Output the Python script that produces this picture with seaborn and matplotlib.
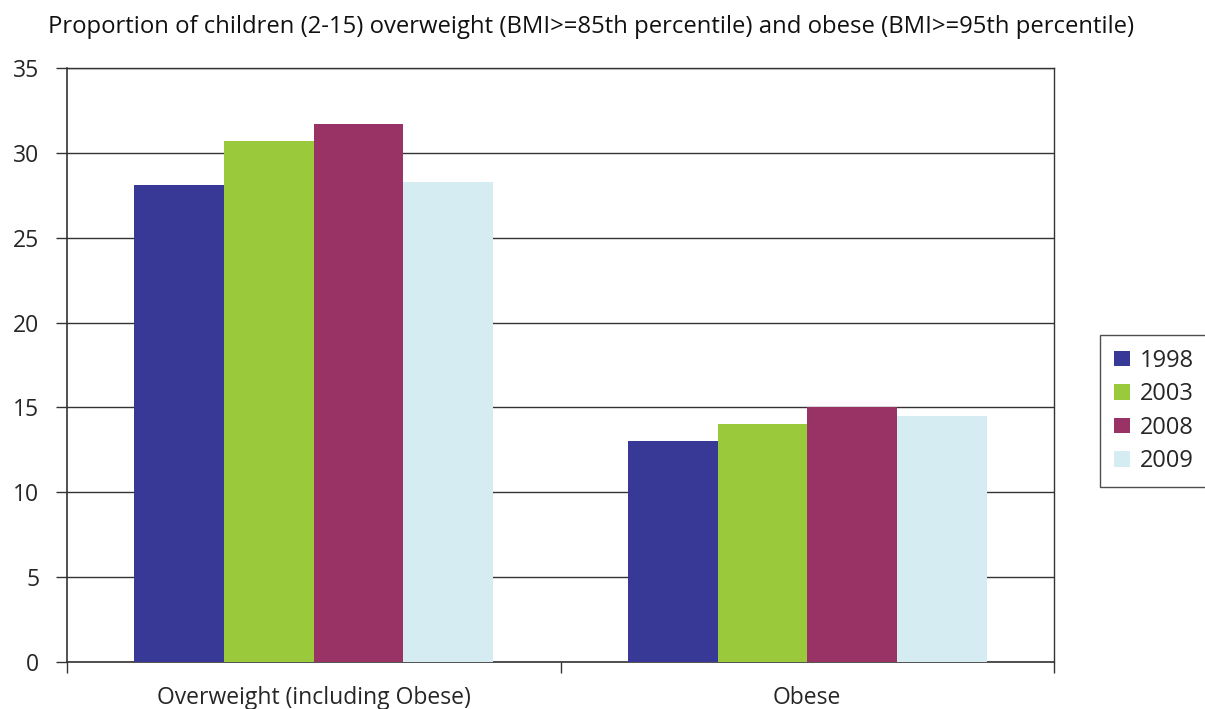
import pandas as pd
import matplotlib.pyplot as plt
import seaborn as sns

# chart values
categories = ["Overweight (including Obese)", "Obese"]
years = ["1998", "2003", "2008", "2009"]
values_1998 = [28.1, 13.0]
values_2003 = [30.7, 14.0]
values_2008 = [31.7, 15.0]
values_2009 = [28.3, 14.5]
colors = ["#383896", "#9aca3c", "#993366", "#d4ecf2"]

rows = []
for year, vals in zip(years, [values_1998, values_2003, values_2008, values_2009]):
    for cat, v in zip(categories, vals):
        rows.append({"category": cat, "year": year, "value": v})
df = pd.DataFrame(rows)

sns.set_theme(style="white")
plt.rcParams['font.family'] = ['Open Sans', 'DejaVu Sans']

fig = plt.figure(figsize=(12.05, 7.09), dpi=100)
ax = fig.add_axes([0.0556, 0.0663, 0.8191, 0.8378])

sns.barplot(data=df, x="category", y="value", hue="year", order=categories,
            hue_order=years, palette=colors, width=0.727, saturation=1,
            edgecolor="none", ax=ax, zorder=3)

ax.set_ylim(0, 35)
ax.set_xlim(-0.5, 1.5)
ax.set_yticks(range(0, 36, 5))
ax.yaxis.grid(True, color="#333333", linewidth=1.0, zorder=0)
ax.set_axisbelow(True)
ax.set_xlabel("")
ax.set_ylabel("")

# category boundary ticks, labels centered
ax.set_xticks([-0.5, 0.5, 1.5], minor=True)
ax.tick_params(axis="x", which="minor", length=8, width=1, color="#333333", direction="out", bottom=True)
ax.tick_params(axis="x", which="major", length=0, labelsize=16.5, pad=17)
ax.tick_params(axis="y", length=8, width=1, color="#333333", direction="out", left=True, labelsize=16.5, pad=12)

for s in ["left", "bottom"]:
    ax.spines[s].set_color("#333333")
    ax.spines[s].set_linewidth(1.2)
for s in ["top", "right"]:
    ax.spines[s].set_color("#333333")
    ax.spines[s].set_linewidth(1.0)

leg = ax.legend(title=None, loc="center left", bbox_to_anchor=(1.0466, 0.4226),
                frameon=True, fancybox=False, fontsize=17, handlelength=0.65,
                handleheight=0.65, handletextpad=0.45, labelspacing=0.4,
                borderpad=0.6, borderaxespad=0)
leg.get_frame().set_edgecolor("#222222")
leg.get_frame().set_linewidth(1.0)

fig.text(0.04, 0.962, "Proportion of children (2-15) overweight (BMI>=85th percentile) and obese (BMI>=95th percentile)",
         fontsize=17.2, ha="left", va="center", color="#111111")

plt.savefig("out.png", dpi=100)
